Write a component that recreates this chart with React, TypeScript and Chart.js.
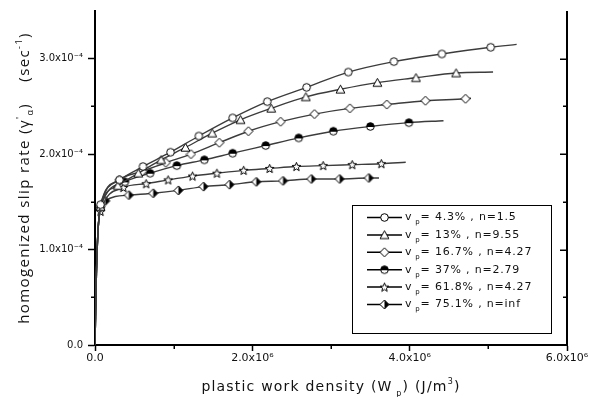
import React, { useEffect, useRef } from "react";
import { Chart, registerables } from "chart.js";
Chart.register(...registerables);

// x in units of 1e6 J/m^3, y in units of 1e-4 1/s
const leadX = [0, 0.008, 0.018, 0.03, 0.045];
const leadY = [0, 0.35, 0.75, 1.05, 1.28];

const labels = [
  "= 4.3% , n=1.5",
  "= 13% , n=9.55",
  "= 16.7% , n=4.27",
  "= 37% , n=2.79",
  "= 61.8% , n=4.27",
  "= 75.1% , n=inf",
];

const circX = [0.07, 0.31, 0.61, 0.96, 1.32, 1.75, 2.19, 2.69, 3.22, 3.8, 4.41, 5.03];
const circY = [1.47, 1.73, 1.87, 2.02, 2.19, 2.38, 2.55, 2.7, 2.86, 2.97, 3.05, 3.12];
const circEnd = [5.36, 3.15];

const triX = [0.07, 0.29, 0.55, 0.84, 1.15, 1.49, 1.85, 2.24, 2.68, 3.12, 3.59, 4.08, 4.59];
const triY = [1.45, 1.67, 1.8, 1.94, 2.07, 2.22, 2.36, 2.48, 2.6, 2.68, 2.75, 2.8, 2.85];
const triEnd = [5.06, 2.86];

const diaX = [0.07, 0.31, 0.6, 0.9, 1.22, 1.58, 1.95, 2.36, 2.79, 3.24, 3.71, 4.2, 4.71];
const diaY = [1.45, 1.73, 1.82, 1.91, 2.0, 2.12, 2.24, 2.34, 2.42, 2.48, 2.52, 2.56, 2.58];
const diaEnd = [4.78, 2.585];

const hcX = [0.07, 0.38, 0.7, 1.04, 1.39, 1.75, 2.17, 2.59, 3.03, 3.5, 3.99];
const hcY = [1.44, 1.71, 1.8, 1.88, 1.94, 2.01, 2.09, 2.17, 2.24, 2.29, 2.33];
const hcEnd = [4.43, 2.35];

const starX = [0.07, 0.36, 0.65, 0.93, 1.24, 1.55, 1.89, 2.22, 2.56, 2.9, 3.27, 3.64];
const starY = [1.4, 1.65, 1.69, 1.73, 1.77, 1.8, 1.83, 1.85, 1.87, 1.88, 1.89, 1.9];
const starEnd = [3.95, 1.915];

const hdX = [0.13, 0.43, 0.74, 1.06, 1.38, 1.71, 2.05, 2.39, 2.75, 3.11, 3.48];
const hdY = [1.51, 1.57, 1.59, 1.62, 1.66, 1.68, 1.71, 1.72, 1.74, 1.74, 1.75];
const hdEnd = [3.61, 1.75];

const xTicks = [0, 2, 4, 6];
const yTicks = [0, 1, 2, 3];

type Pt = { x: number; y: number; m: boolean };

function build(mx: number[], my: number[], end: number[]): Pt[] {
  const pts: Pt[] = [];
  leadX.forEach((x, i) => pts.push({ x: x * 1e6, y: leadY[i] * 1e-4, m: false }));
  mx.forEach((x, i) => pts.push({ x: x * 1e6, y: my[i] * 1e-4, m: true }));
  pts.push({ x: end[0] * 1e6, y: end[1] * 1e-4, m: false });
  return pts;
}

function makeMarker(kind: string): HTMLCanvasElement {
  const s = 11;
  const c = document.createElement("canvas");
  c.width = s;
  c.height = s;
  const g = c.getContext("2d")!;
  const m = 5.5;
  g.lineWidth = 1;
  g.strokeStyle = "#000";
  g.fillStyle = "#fff";
  const path = () => {
    g.beginPath();
    if (kind === "circle" || kind === "halfcircle") {
      g.arc(m, m, 3.8, 0, Math.PI * 2);
    } else if (kind === "triangle") {
      g.moveTo(m, 1.3);
      g.lineTo(9.9, 9.2);
      g.lineTo(1.1, 9.2);
      g.closePath();
    } else if (kind === "diamond" || kind === "halfdiamond") {
      g.moveTo(m, 1);
      g.lineTo(10, m);
      g.lineTo(m, 10);
      g.lineTo(1, m);
      g.closePath();
    } else if (kind === "star") {
      for (let i = 0; i < 10; i++) {
        const r = i % 2 === 0 ? 4.6 : 2.0;
        const a = -Math.PI / 2 + (i * Math.PI) / 5;
        const px = m + r * Math.cos(a);
        const py = m + 0.4 + r * Math.sin(a);
        if (i === 0) g.moveTo(px, py);
        else g.lineTo(px, py);
      }
      g.closePath();
    }
  };
  path();
  g.fill();
  if (kind === "halfcircle" || kind === "halfdiamond") {
    g.save();
    path();
    g.clip();
    g.fillStyle = "#000";
    if (kind === "halfcircle") g.fillRect(0, 0, s, m);
    else g.fillRect(m, 0, s, s);
    g.restore();
  }
  path();
  g.stroke();
  if (kind === "halfcircle") {
    g.beginPath();
    g.moveTo(1.7, m);
    g.lineTo(9.3, m);
    g.stroke();
  }
  return c;
}

type Seg = { t: string; size: number; dy: number };

function drawSegs(
  ctx: CanvasRenderingContext2D,
  segs: Seg[],
  family: string,
  x: number,
  y: number,
  center: boolean,
  spacing: number
) {
  const c: any = ctx;
  c.letterSpacing = spacing + "px";
  let total = 0;
  const widths = segs.map((s) => {
    ctx.font = `${s.size}px "${family}"`;
    const w = ctx.measureText(s.t).width;
    total += w;
    return w;
  });
  let cx = center ? x - total / 2 : x;
  segs.forEach((s, i) => {
    ctx.font = `${s.size}px "${family}"`;
    ctx.fillText(s.t, cx, y + s.dy);
    cx += widths[i];
  });
  c.letterSpacing = "0px";
}

export default function App() {
  const ref = useRef<HTMLCanvasElement>(null);
  useEffect(() => {
    document.body.style.margin = "0";
    const canvas = ref.current!;
    const kinds = ["circle", "triangle", "diamond", "halfcircle", "star", "halfdiamond"];
    const imgs = kinds.map(makeMarker);
    const series = [
      build(circX, circY, circEnd),
      build(triX, triY, triEnd),
      build(diaX, diaY, diaEnd),
      build(hcX, hcY, hcEnd),
      build(starX, starY, starEnd),
      build(hdX, hdY, hdEnd),
    ];

    const extras = {
      id: "extras",
      afterDraw(chart: any) {
        const ctx: CanvasRenderingContext2D = chart.ctx;
        const area = chart.chartArea;
        const xs = chart.scales.x;
        const ys = chart.scales.y;
        ctx.save();
        ctx.strokeStyle = "#000";
        // minor x ticks
        ctx.lineWidth = 1.5;
        [1, 3, 5].forEach((v) => {
          const px = Math.round(xs.getPixelForValue(v * 1e6)) + 0.25;
          ctx.beginPath();
          ctx.moveTo(px, area.bottom);
          ctx.lineTo(px, area.bottom + 4);
          ctx.stroke();
        });
        // minor y ticks (left)
        [0.5, 1.5, 2.5].forEach((v) => {
          const py = Math.round(ys.getPixelForValue(v * 1e-4)) + 0.25;
          ctx.beginPath();
          ctx.moveTo(area.left - 4, py);
          ctx.lineTo(area.left, py);
          ctx.stroke();
        });
        // right axis
        ctx.lineWidth = 2;
        ctx.beginPath();
        ctx.moveTo(area.right, area.top);
        ctx.lineTo(area.right, area.bottom + 1);
        ctx.stroke();
        ctx.lineWidth = 1.5;
        [0.5, 1, 1.5, 2, 2.5, 3].forEach((v) => {
          const py = Math.round(ys.getPixelForValue(v * 1e-4)) + 0.25;
          const len = Number.isInteger(v) ? 7 : 4;
          ctx.beginPath();
          ctx.moveTo(area.right - len, py);
          ctx.lineTo(area.right, py);
          ctx.stroke();
        });

        // axis titles
        ctx.fillStyle = "#111";
        ctx.textBaseline = "alphabetic";
        ctx.textAlign = "left";
        drawSegs(
          ctx,
          [
            { t: "plastic work density (W", size: 14, dy: 0 },
            { t: " p", size: 8, dy: 5 },
            { t: ") (J/m", size: 14, dy: 0 },
            { t: "3", size: 8, dy: -7 },
            { t: ")", size: 14, dy: 0 },
          ],
          "DejaVu Sans",
          (area.left + area.right) / 2,
          391,
          true,
          1.2
        );
        ctx.save();
        ctx.translate(29, (area.top + area.bottom) / 2);
        ctx.rotate(-Math.PI / 2);
        drawSegs(
          ctx,
          [
            { t: "homogenized slip rate (\u03b3", size: 15, dy: 0 },
            { t: "'", size: 9, dy: -6 },
            { t: "\u03b1", size: 9, dy: 4 },
            { t: ")    (sec", size: 15, dy: 0 },
            { t: "-1", size: 9, dy: -7 },
            { t: ")", size: 15, dy: 0 },
          ],
          "Open Sans",
          0,
          0,
          true,
          1.4
        );
        ctx.restore();

        // legend
        ctx.lineWidth = 1;
        ctx.strokeStyle = "#000";
        ctx.strokeRect(352.5, 205.5, 199, 128);
        labels.forEach((lab, i) => {
          const y = 217.5 + i * 17.4;
          ctx.lineWidth = 1.5;
          ctx.beginPath();
          ctx.moveTo(367, y);
          ctx.lineTo(402, y);
          ctx.stroke();
          const im = imgs[i];
          ctx.drawImage(im, 384.5 - im.width / 2, y - im.height / 2);
          ctx.fillStyle = "#111";
          ctx.textBaseline = "middle";
          drawSegs(
            ctx,
            [
              { t: "v", size: 11, dy: 0 },
              { t: " p", size: 7, dy: 5 },
              { t: lab, size: 11, dy: 0 },
            ],
            "DejaVu Sans",
            405,
            y,
            false,
            0.8
          );
        });
        ctx.restore();
      },
    };

    const chart = new Chart(canvas, {
      type: "scatter",
      data: {
        datasets: series.map((pts, i) => ({
          label: labels[i],
          data: pts,
          showLine: true,
          borderColor: "#3c3c3c",
          borderWidth: 1.4,
          cubicInterpolationMode: "monotone" as const,
          pointStyle: imgs[i] as any,
          pointRadius: (c: any) => (c.raw && c.raw.m ? 4 : 0),
          pointHoverRadius: 0,
        })),
      },
      options: {
        animation: false,
        responsive: true,
        maintainAspectRatio: false,
        layout: { padding: { left: 0, right: 34, top: 5, bottom: 0 } },
        plugins: { legend: { display: false }, tooltip: { enabled: false } },
        scales: {
          x: {
            type: "linear",
            min: 0,
            max: 6e6,
            afterFit: (s: any) => {
              s.height = 52;
            },
            afterBuildTicks: (s: any) => {
              s.ticks = xTicks.map((v) => ({ value: v * 1e6 }));
            },
            ticks: {
              padding: 1,
              color: "#111",
              maxRotation: 0,
              font: { family: "DejaVu Sans", size: 11 },
              callback: (v: any) => {
                const n = Number(v) / 1e6;
                return n === 0 ? "0.0" : n.toFixed(1) + "x10\u2076";
              },
            },
            grid: { drawOnChartArea: false, drawTicks: true, tickLength: 6, tickColor: "#000", tickWidth: 1.5 },
            border: { display: true, color: "#000", width: 2 },
          },
          y: {
            type: "linear",
            min: 0,
            max: 3.5e-4,
            afterFit: (s: any) => {
              s.width = 95;
            },
            afterBuildTicks: (s: any) => {
              s.ticks = yTicks.map((v) => ({ value: v * 1e-4 }));
            },
            ticks: {
              padding: 5,
              color: "#111",
              font: { family: "DejaVu Sans", size: 10 },
              callback: (v: any) => {
                const n = Math.round((Number(v) / 1e-4) * 10) / 10;
                return n === 0 ? "0.0" : n.toFixed(1) + "x10\u207b\u2074";
              },
            },
            grid: { drawOnChartArea: false, drawTicks: true, tickLength: 7, tickColor: "#000", tickWidth: 1.5 },
            border: { display: true, color: "#000", width: 2 },
          },
        },
      },
      plugins: [extras],
    });
    return () => chart.destroy();
  }, []);
  return (
    <div style={{ width: 601, height: 397, position: "relative" }}>
      <canvas ref={ref} />
    </div>
  );
}
